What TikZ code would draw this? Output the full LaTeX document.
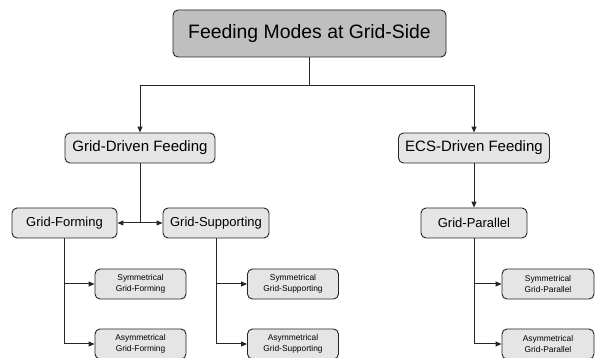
\documentclass[tikz,border=0pt]{standalone}
\usepackage{fontspec}
\setmainfont{Liberation Sans}
\usetikzlibrary{arrows.meta}
\begin{document}
\begin{tikzpicture}[x=1pt,y=-1pt,
  box/.style={draw=black!85,line width=0.9pt,rounded corners=5pt,fill=black!10,
    minimum height=30pt,inner sep=0pt,align=center},
  topbox/.style={box,fill=black!25,minimum width=273pt,minimum height=47pt,font=\fontsize{19.4}{21}\selectfont},
  midbox/.style={box,minimum width=150pt,font=\fontsize{15}{17}\selectfont},
  subbox/.style={box,minimum width=105pt,font=\fontsize{13}{15}\selectfont},
  leafbox/.style={box,minimum width=91pt,font=\fontsize{8.4}{10.4}\selectfont},
  conn/.style={line width=1pt,black!85},
  arr/.style={conn,-{Triangle[length=6pt,width=5pt]}}]
\useasboundingbox (0,0) rectangle (595,358);
\fill[white] (0,0) rectangle (595,358);
\node[topbox] (top) at (309.5,33.5) {Feeding Modes at Grid-Side};
\node[midbox] (gdf) at (140,148) {Grid-Driven Feeding};
\node[midbox,minimum width=151pt] (ecs) at (474,148) {ECS-Driven Feeding};
\node[subbox] (gf) at (64.5,223) {Grid-Forming};
\node[subbox,minimum width=106pt] (gs) at (216,223) {Grid-Supporting};
\node[subbox,minimum width=106pt] (gp) at (474,223) {Grid-Parallel};
\node[leafbox] (sgf) at (140.5,284) {Symmetrical\\Grid-Forming};
\node[leafbox] (agf) at (140.5,344) {Asymmetrical\\Grid-Forming};
\node[leafbox] (sgs) at (293,284) {Symmetrical\\Grid-Supporting};
\node[leafbox] (ags) at (293,344) {Asymmetrical\\Grid-Supporting};
\node[leafbox,minimum width=92pt] (sgp) at (548,284) {Symmetrical\\Grid-Parallel};
\node[leafbox,minimum width=92pt] (agp) at (548,344) {Asymmetrical\\Grid-Parallel};
% top level split
\coordinate (split) at (309.5,86);
\draw[conn] (top.south) -- (split);
\draw[arr] (split) -| (gdf.north);
\draw[arr] (split) -| (ecs.north);
% grid-driven branch
\coordinate (gj) at (140,223);
\draw[conn] (gdf.south) -- (gj);
\draw[arr] (gj) -- (gf.east);
\draw[arr] (gj) -- (gs.west);
\draw[arr] (ecs.south) -- (gp.north);
% leaf connectors
\draw[arr] (gf.south) |- (sgf.west);
\draw[arr] (gf.south) |- (agf.west);
\draw[arr] (gs.south) |- (sgs.west);
\draw[arr] (gs.south) |- (ags.west);
\draw[arr] (gp.south) |- (sgp.west);
\draw[arr] (gp.south) |- (agp.west);
\end{tikzpicture}
\end{document}
